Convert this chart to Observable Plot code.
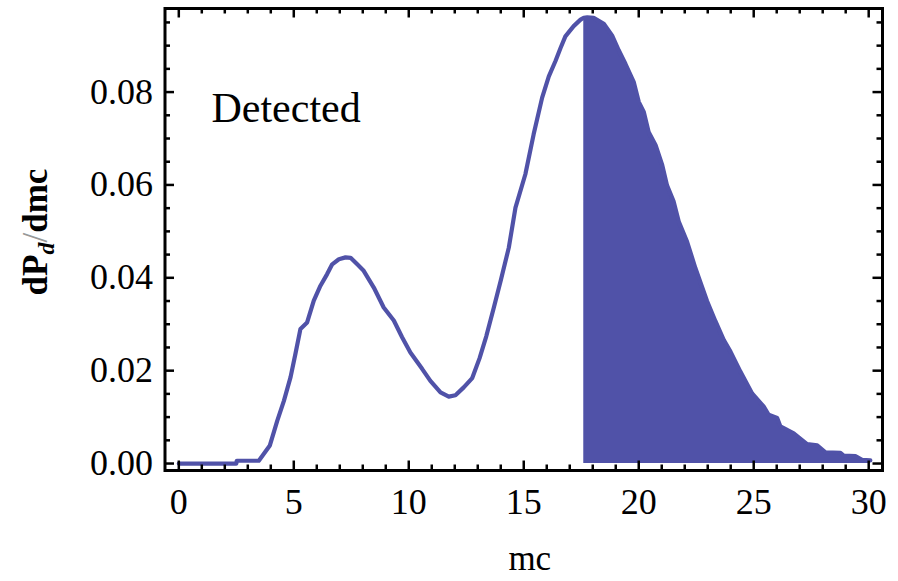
<!DOCTYPE html>
<html><head><meta charset="utf-8">
<script src="https://cdn.jsdelivr.net/npm/d3@7"></script>
<script src="https://cdn.jsdelivr.net/npm/@observablehq/plot@0.6"></script>
<style>body{margin:0;background:#fff;}</style>
</head><body><div id="chart"></div>
<script>
const mcValues = [0, 2.50, 2.52, 3.48, 3.70, 3.96, 4.13, 4.28, 4.57, 4.86, 5.07, 5.29, 5.58, 5.87, 6.16, 6.45, 6.67, 6.96, 7.25, 7.47, 7.76, 8.04, 8.48, 8.91, 9.35, 9.71, 10.07, 10.58, 10.94, 11.38, 11.74, 12.03, 12.39, 12.76, 13.08, 13.37, 13.70, 14.00, 14.35, 14.64, 15.07, 15.43, 15.80, 16.09, 16.38, 16.60, 16.81, 17.17, 17.47, 17.61, 17.76, 18.04, 18.48, 18.84, 19.13, 19.42, 19.78, 20.00, 20.22, 20.43, 20.73, 21.02, 21.23, 21.52, 21.74, 22.10, 22.47, 22.97, 23.34, 23.70, 23.99, 24.42, 24.93, 25.43, 25.65, 26.02, 26.16, 26.74, 27.32, 27.76, 28.12, 28.77, 28.91, 29.42, 29.71, 30.07];
const dPdValues = [0.0000, 0.0000, 0.0006, 0.0006, 0.0021, 0.0039, 0.0067, 0.0092, 0.0135, 0.0186, 0.0236, 0.0290, 0.0304, 0.0351, 0.0383, 0.0408, 0.0429, 0.0440, 0.0444, 0.0443, 0.0429, 0.0415, 0.0379, 0.0336, 0.0308, 0.0272, 0.0239, 0.0204, 0.0178, 0.0153, 0.0144, 0.0147, 0.0164, 0.0184, 0.0227, 0.0274, 0.0336, 0.0394, 0.0465, 0.0551, 0.0623, 0.0709, 0.0788, 0.0834, 0.0867, 0.0895, 0.0920, 0.0942, 0.0956, 0.0960, 0.0961, 0.0960, 0.0947, 0.0922, 0.0890, 0.0861, 0.0822, 0.0779, 0.0757, 0.0714, 0.0686, 0.0643, 0.0599, 0.0564, 0.0521, 0.0478, 0.0420, 0.0350, 0.0306, 0.0266, 0.0241, 0.0198, 0.0151, 0.0123, 0.0105, 0.0098, 0.0080, 0.0065, 0.0042, 0.0039, 0.0024, 0.0023, 0.0017, 0.0016, 0.0008, 0.0007];
const shadeStart = 17.61;
const xMajorTicks = [0, 5, 10, 15, 20, 25, 30];
const xMinorTicks = [1, 2, 3, 4, 6, 7, 8, 9, 11, 12, 13, 14, 16, 17, 18, 19, 21, 22, 23, 24, 26, 27, 28, 29];
const yMajorTicks = [0, 0.02, 0.04, 0.06, 0.08];
const yMinorTicks = [0.005, 0.01, 0.015, 0.025, 0.03, 0.035, 0.045, 0.05, 0.055, 0.065, 0.07, 0.075, 0.085, 0.09, 0.095];
const annotation = [{mc: 1.42, p: 0.0764, label: "Detected"}];
const xLabel = "mc";

const data = mcValues.map((m, i) => ({mc: m, p: dPdValues[i]}));
const color = "#5052a8";
const W = 898, H = 581, mt = 8, mb = 111, ml = 164.5, mr = 16;
const ph = H - mt - mb;
const pw = W - ml - mr;
const majorLen = 9.5, minorLen = 5.5;
const tickStyle = {stroke: "black", strokeWidth: 2.5};

const plot = Plot.plot({
  width: W, height: H,
  marginTop: mt, marginBottom: mb, marginLeft: ml, marginRight: mr,
  style: {fontFamily: "'Liberation Serif', 'Times New Roman', serif", background: "white", color: "black", overflow: "visible"},
  x: {domain: [-0.6, 30.6]},
  y: {domain: [-0.0015, 0.098]},
  marks: [
    Plot.areaY(data.filter(d => d.mc >= shadeStart), {x: "mc", y: "p", fill: color}),
    Plot.line(data, {x: "mc", y: "p", stroke: color, strokeWidth: 4.2, strokeLinejoin: "round"}),
    Plot.ruleX(xMajorTicks, {x: d => d, insetTop: ph - majorLen, ...tickStyle}),
    Plot.ruleX(xMajorTicks, {x: d => d, insetBottom: ph - majorLen, ...tickStyle}),
    Plot.ruleX(xMinorTicks, {x: d => d, insetTop: ph - minorLen, ...tickStyle}),
    Plot.ruleX(xMinorTicks, {x: d => d, insetBottom: ph - minorLen, ...tickStyle}),
    Plot.ruleY(yMajorTicks, {y: d => d, insetRight: pw - majorLen, ...tickStyle}),
    Plot.ruleY(yMajorTicks, {y: d => d, insetLeft: pw - majorLen, ...tickStyle}),
    Plot.ruleY(yMinorTicks, {y: d => d, insetRight: pw - minorLen, ...tickStyle}),
    Plot.ruleY(yMinorTicks, {y: d => d, insetLeft: pw - minorLen, ...tickStyle}),
    Plot.frame({stroke: "black", strokeWidth: 3}),
    Plot.axisX({ticks: xMajorTicks, tickSize: 0, tickPadding: 18, fontSize: 36, label: null, tickFormat: d3.format("d")}),
    Plot.axisY({ticks: yMajorTicks, tickSize: 0, tickPadding: 12, fontSize: 36, label: null, tickFormat: d3.format(".2f")}),
    Plot.text(annotation, {x: "mc", y: "p", text: "label", textAnchor: "start", fontSize: 42, fill: "black"}),
    Plot.text([xLabel], {frameAnchor: "bottom", text: d => d, dx: 6, dy: 88, lineAnchor: "middle", fontSize: 35, fill: "black"})
  ]
});

document.getElementById("chart").appendChild(plot);

const svg = d3.select(plot);
const yl = svg.append("text")
  .attr("transform", "translate(47,232) rotate(-90)")
  .attr("text-anchor", "middle")
  .attr("fill", "black")
  .style("font-family", "'Liberation Serif', serif")
  .style("font-size", "35px")
  .style("font-weight", "bold");
yl.append("tspan").text("dP");
yl.append("tspan").attr("dy", 7).style("font-size", "24px").style("font-style", "italic").text("d");
yl.append("tspan").attr("dy", -7).style("font-weight", "normal").attr("fill", "#999").text("/");
yl.append("tspan").text("dmc");
</script>
</body></html>
